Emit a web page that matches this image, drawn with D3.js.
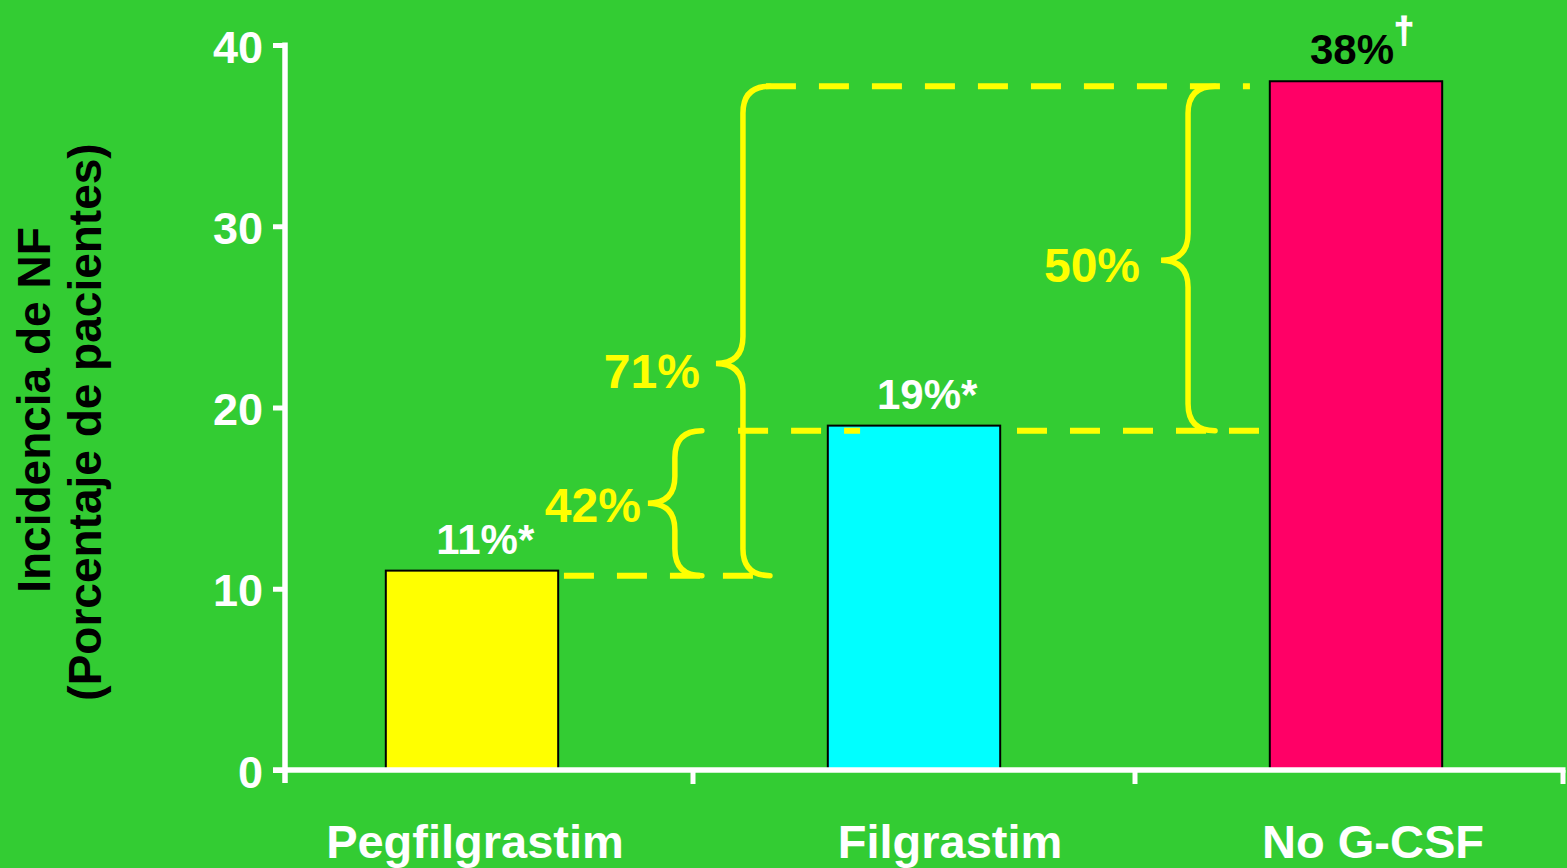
<!DOCTYPE html>
<html>
<head>
<meta charset="utf-8">
<script src="https://cdn.jsdelivr.net/npm/d3@7"></script>
<style>
  html, body { margin: 0; padding: 0; background: #33CC33; }
  svg { display: block; font-family: "Liberation Sans", Arial, Helvetica, sans-serif; font-weight: bold; }
</style>
</head>
<body>
<svg id="chart" width="1567" height="868"></svg>
<script>
// ---- data ----
const categories = ["Pegfilgrastim", "Filgrastim", "No G-CSF"];
const incidence = [11, 19, 38];                       // % of patients with FN
const barColors = ["#FFFF00", "#00FFFF", "#FF0066"];
const valueLabels = ["11%", "19%", "38%"];
const valueMarks = ["*", "*", "\u2020"];
const valueLabelColors = ["#FFFFFF", "#FFFFFF", "#000000"];
const yTicks = [0, 10, 20, 30, 40];

// relative reductions shown with braces
const reductionLabels = ["42%", "71%", "50%"];
const reductionFrom = [11, 11, 19];
const reductionTo = [19, 38, 38];
const reductionTip = [15, 22.7, 28.4];

// dashed guide lines (value levels)
const guideValues = [11, 19, 19, 38];

// ---- layout (category-index units for annotation placement) ----
const guideFrom = [0.208, 0.602, 1.233, 0.665];
const guideTo = [0.636, 0.878, 1.783, 1.760];
const braceAt = [0.459, 0.613, 1.620];
const braceLabelGap = [7, 16, 21];
const braceLabelDrop = [19, 24, 22];

const W = 1567, H = 868;
const plot = { left: 285, right: 1563, top: 45, bottom: 770 };
const WHITE = "#FFFFFF", YELLOW = "#FFFF00", BG = "#33CC33";

const svg = d3.select("#chart");
svg.append("rect").attr("width", W).attr("height", H).attr("fill", BG);

const x = d3.scaleBand().domain(categories).range([plot.left - 34, plot.right + 14]);
const center = c => x(c) + x.bandwidth() / 2;
const pos = d3.scaleLinear()
  .domain([0, categories.length - 1])
  .range([center(categories[0]), center(categories[categories.length - 1])]);
const y = d3.scaleLinear().domain([0, 40]).range([plot.bottom, plot.top]);
const barW = x.bandwidth() * 0.39;
const lineOffset = 5;

// ---- bars ----
svg.append("g").selectAll("rect")
  .data(categories)
  .join("rect")
  .attr("x", (c, i) => pos(i) - barW / 2)
  .attr("y", (c, i) => y(incidence[i]))
  .attr("width", barW)
  .attr("height", (c, i) => y(0) - y(incidence[i]))
  .attr("fill", (c, i) => barColors[i])
  .attr("stroke", "#000")
  .attr("stroke-width", 2);

// ---- value labels ----
const vl = svg.append("g").attr("font-size", 42);
categories.forEach((c, i) => {
  const cx = pos(i) + (i === 2 ? -4 : 5);
  const t = vl.append("text")
    .attr("x", cx)
    .attr("y", y(incidence[i]) - 17)
    .attr("text-anchor", "middle")
    .attr("fill", valueLabelColors[i])
    .text(valueLabels[i]);
  const w = t.node().getComputedTextLength();
  const endX = cx + w / 2;
  if (valueMarks[i] === "*") {
    vl.append("text")
      .attr("x", endX)
      .attr("y", y(incidence[i]) - 17)
      .attr("fill", WHITE)
      .text(valueMarks[i]);
  } else {
    vl.append("text")
      .attr("x", endX)
      .attr("y", y(incidence[i]) - 38)
      .attr("font-size", 36)
      .attr("fill", WHITE)
      .attr("stroke", WHITE)
      .attr("stroke-width", 1.2)
      .text(valueMarks[i]);
  }
});

// ---- dashed guide lines ----
svg.append("g").selectAll("line")
  .data(guideValues)
  .join("line")
  .attr("x1", (v, i) => pos(guideFrom[i]))
  .attr("x2", (v, i) => pos(guideTo[i]))
  .attr("y1", v => y(v) + lineOffset)
  .attr("y2", v => y(v) + lineOffset)
  .attr("stroke", YELLOW)
  .attr("stroke-width", 6)
  .attr("stroke-dasharray", "30,23");

// ---- braces (pointing left) ----
function bracePath(sx, y1, y2, ty, r) {
  const p = d3.path();
  p.moveTo(sx + r, y1);
  p.quadraticCurveTo(sx, y1, sx, y1 + r);
  p.lineTo(sx, ty - r);
  p.quadraticCurveTo(sx, ty, sx - r, ty);
  p.quadraticCurveTo(sx, ty, sx, ty + r);
  p.lineTo(sx, y2 - r);
  p.quadraticCurveTo(sx, y2, sx + r, y2);
  return p.toString();
}
const braces = svg.append("g");
reductionLabels.forEach((lab, i) => {
  const sx = pos(braceAt[i]);
  const y1 = y(reductionTo[i]) + lineOffset;
  const y2 = y(reductionFrom[i]) + lineOffset;
  const ty = y(reductionTip[i]) + lineOffset;
  const r = 27;
  braces.append("path")
    .attr("d", bracePath(sx, y1, y2, ty, r))
    .attr("fill", "none")
    .attr("stroke", YELLOW)
    .attr("stroke-width", 5.5)
    .attr("stroke-linecap", "round");
  braces.append("text")
    .attr("x", sx - r - braceLabelGap[i])
    .attr("y", ty + braceLabelDrop[i])
    .attr("text-anchor", "end")
    .attr("font-size", 48)
    .attr("fill", YELLOW)
    .text(lab);
});

// ---- y axis ----
const yAxis = svg.append("g")
  .attr("transform", `translate(${plot.left},0)`)
  .call(d3.axisLeft(y).tickValues(yTicks).tickSize(12).tickPadding(10).tickFormat(d3.format("d")));
yAxis.select(".domain").remove();
yAxis.attr("font-family", null).attr("font-size", null);
yAxis.selectAll(".tick line").attr("stroke", WHITE).attr("stroke-width", 5);
yAxis.selectAll(".tick text")
  .attr("fill", WHITE)
  .attr("font-size", 45)
  .attr("dy", "0.38em");
svg.append("line")
  .attr("x1", plot.left).attr("x2", plot.left)
  .attr("y1", y(40) - 2.5).attr("y2", plot.bottom + 13)
  .attr("stroke", WHITE).attr("stroke-width", 5.5);

// ---- x axis ----
svg.append("line")
  .attr("x1", plot.left - 12).attr("x2", plot.right + 2.5)
  .attr("y1", plot.bottom).attr("y2", plot.bottom)
  .attr("stroke", WHITE).attr("stroke-width", 5.5);
const boundaries = categories.slice(1).map(c => x(c)).concat([plot.right]);
svg.append("g").selectAll("line")
  .data(boundaries)
  .join("line")
  .attr("x1", d => d).attr("x2", d => d)
  .attr("y1", plot.bottom).attr("y2", plot.bottom + 14)
  .attr("stroke", WHITE).attr("stroke-width", 5);

const xAxis = svg.append("g")
  .attr("transform", `translate(0,${plot.bottom})`)
  .call(d3.axisBottom(x).tickSize(0).tickPadding(55));
xAxis.select(".domain").remove();
xAxis.attr("font-family", null).attr("font-size", null);
xAxis.selectAll(".tick text")
  .attr("fill", WHITE)
  .attr("font-size", 47)
  .attr("dx", (c, i) => [3, 36, 17][i]);

// ---- y axis title ----
const title = svg.append("g")
  .attr("transform", `translate(0,418) rotate(-90)`)
  .attr("font-size", 46)
  .attr("fill", "#000")
  .attr("text-anchor", "middle");
title.append("text").attr("x", 8).attr("y", 50).text("Incidencia de NF");
title.append("text").attr("x", -4).attr("y", 101).text("(Porcentaje de pacientes)");
</script>
</body>
</html>
